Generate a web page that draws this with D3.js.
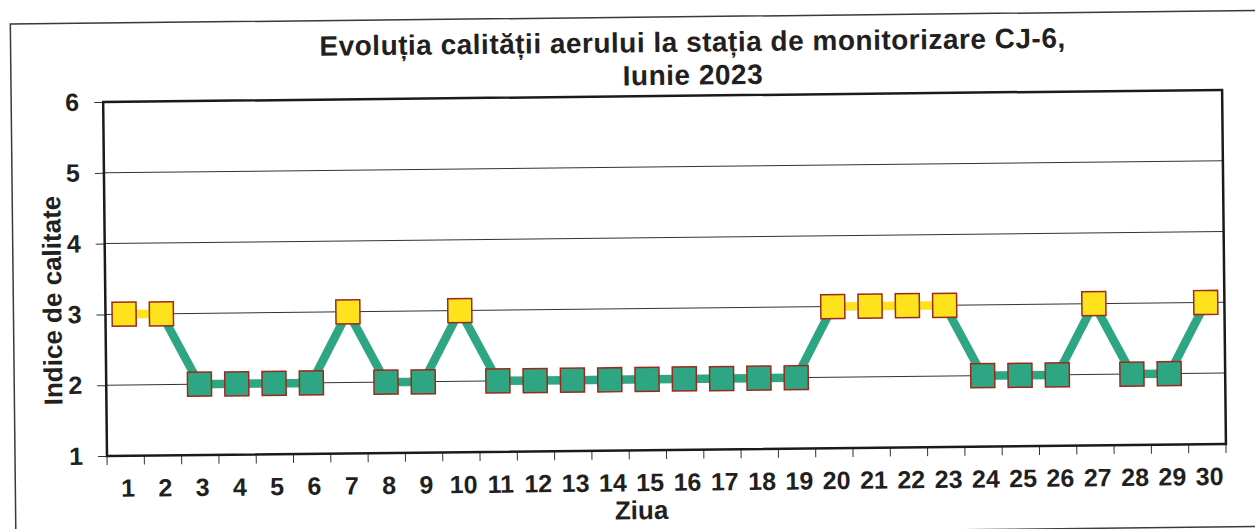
<html>
<head>
<meta charset="utf-8">
<script src="https://d3js.org/d3.v7.min.js"></script>
<style>
  body { margin: 0; background: #fff; }
  text { font-family: "Liberation Sans", Arial, sans-serif; font-weight: bold; fill: #231f20; }
</style>
</head>
<body>
<svg id="svg" width="1255" height="529"></svg>
<script>
'use strict';

const days = d3.range(1, 31).map(String);
const quality = [3, 3, 2, 2, 2, 2, 3, 2, 2, 3, 2, 2, 2, 2, 2, 2, 2, 2, 2, 3, 3, 3, 3, 2, 2, 2, 3, 2, 2, 3];
const yTicks = [1, 2, 3, 4, 5, 6];
const titleLines = ['Evoluția calității aerului la stația de monitorizare CJ-6,', 'Iunie 2023'];

const yellow = '#fde21c';
const green = '#2fa683';
const edge = '#9a2a1c';

const pl = 107, pt = 102, pw = 1119, ph = 354;

const svg = d3.select('#svg');
// the scan is a little tilted
const g = svg.append('g').attr('transform', `rotate(-0.62, ${pl}, ${pt + ph})`);

g.append('rect')
  .attr('x', 15).attr('y', 23).attr('width', 1250).attr('height', 516)
  .attr('fill', 'none').attr('stroke', '#3a3a3a').attr('stroke-width', 1.5);

const x = d3.scaleBand().domain(days).range([pl, pl + pw]);
const y = d3.scaleLinear().domain([1, 6]).range([pt + ph, pt]);

// grid
g.append('g').selectAll('line')
  .data(yTicks.filter(d => d > 1 && d < 6))
  .join('line')
  .attr('x1', pl).attr('x2', pl + pw)
  .attr('y1', d => y(d)).attr('y2', d => y(d))
  .attr('stroke', '#333').attr('stroke-width', 1);

// y axis
const yAxis = g.append('g')
  .attr('transform', `translate(${pl},0)`)
  .call(d3.axisLeft(y).tickValues(yTicks).tickFormat(d3.format('d')).tickSize(9).tickPadding(15));
yAxis.select('.domain').remove();
yAxis.selectAll('line').attr('stroke', '#333');
yAxis.selectAll('text').style('font-size', '25px').attr('fill', '#231f20')
  .attr('font-family', '"Liberation Sans", Arial, sans-serif').attr('font-weight', 'bold');

// x axis ticks at category boundaries
const bounds = days.map(d => x(d)).concat([pl + pw]);
g.append('g').selectAll('line')
  .data(bounds)
  .join('line')
  .attr('x1', d => d).attr('x2', d => d)
  .attr('y1', pt + ph).attr('y2', pt + ph + 9)
  .attr('stroke', '#333').attr('stroke-width', 1);

g.append('g').selectAll('text')
  .data(days)
  .join('text')
  .attr('x', d => x(d) + x.bandwidth() / 2 + 2)
  .attr('y', pt + ph + 41)
  .attr('text-anchor', 'middle')
  .style('font-size', '25px')
  .text(d => d);

// plot border
g.append('rect')
  .attr('x', pl).attr('y', pt).attr('width', pw).attr('height', ph)
  .attr('fill', 'none').attr('stroke', '#1a1a1a').attr('stroke-width', 2.5);

// line segments
const cx = d => x(d) + x.bandwidth() / 2;
const segs = d3.range(quality.length - 1).map(i => ({ a: i, b: i + 1 }));
g.append('g').selectAll('line')
  .data(segs)
  .join('line')
  .attr('x1', d => cx(days[d.a])).attr('y1', d => y(quality[d.a]))
  .attr('x2', d => cx(days[d.b])).attr('y2', d => y(quality[d.b]))
  .attr('stroke', d => (quality[d.a] === 3 && quality[d.b] === 3) ? yellow : green)
  .attr('stroke-width', 8.5);

// markers
const ms = 24;
g.append('g').selectAll('rect')
  .data(days)
  .join('rect')
  .attr('x', d => cx(d) - ms / 2)
  .attr('y', (d, i) => y(quality[i]) - ms / 2)
  .attr('width', ms).attr('height', ms)
  .attr('fill', (d, i) => quality[i] === 3 ? yellow : green)
  .attr('stroke', edge).attr('stroke-width', 1.5);

// title
g.append('g').selectAll('text')
  .data(titleLines)
  .join('text')
  .attr('x', 697)
  .attr('y', (d, i) => 58 + i * 33)
  .attr('text-anchor', 'middle')
  .style('font-size', '28px')
  .style('letter-spacing', '0.5px')
  .text(d => d);

g.append('text')
  .attr('x', 641).attr('y', 525)
  .attr('text-anchor', 'middle')
  .style('font-size', '26px')
  .text('Ziua');

g.append('text')
  .attr('transform', 'translate(63, 300) rotate(-90)')
  .attr('text-anchor', 'middle')
  .style('font-size', '26px')
  .text('Indice de calitate');
</script>
</body>
</html>
